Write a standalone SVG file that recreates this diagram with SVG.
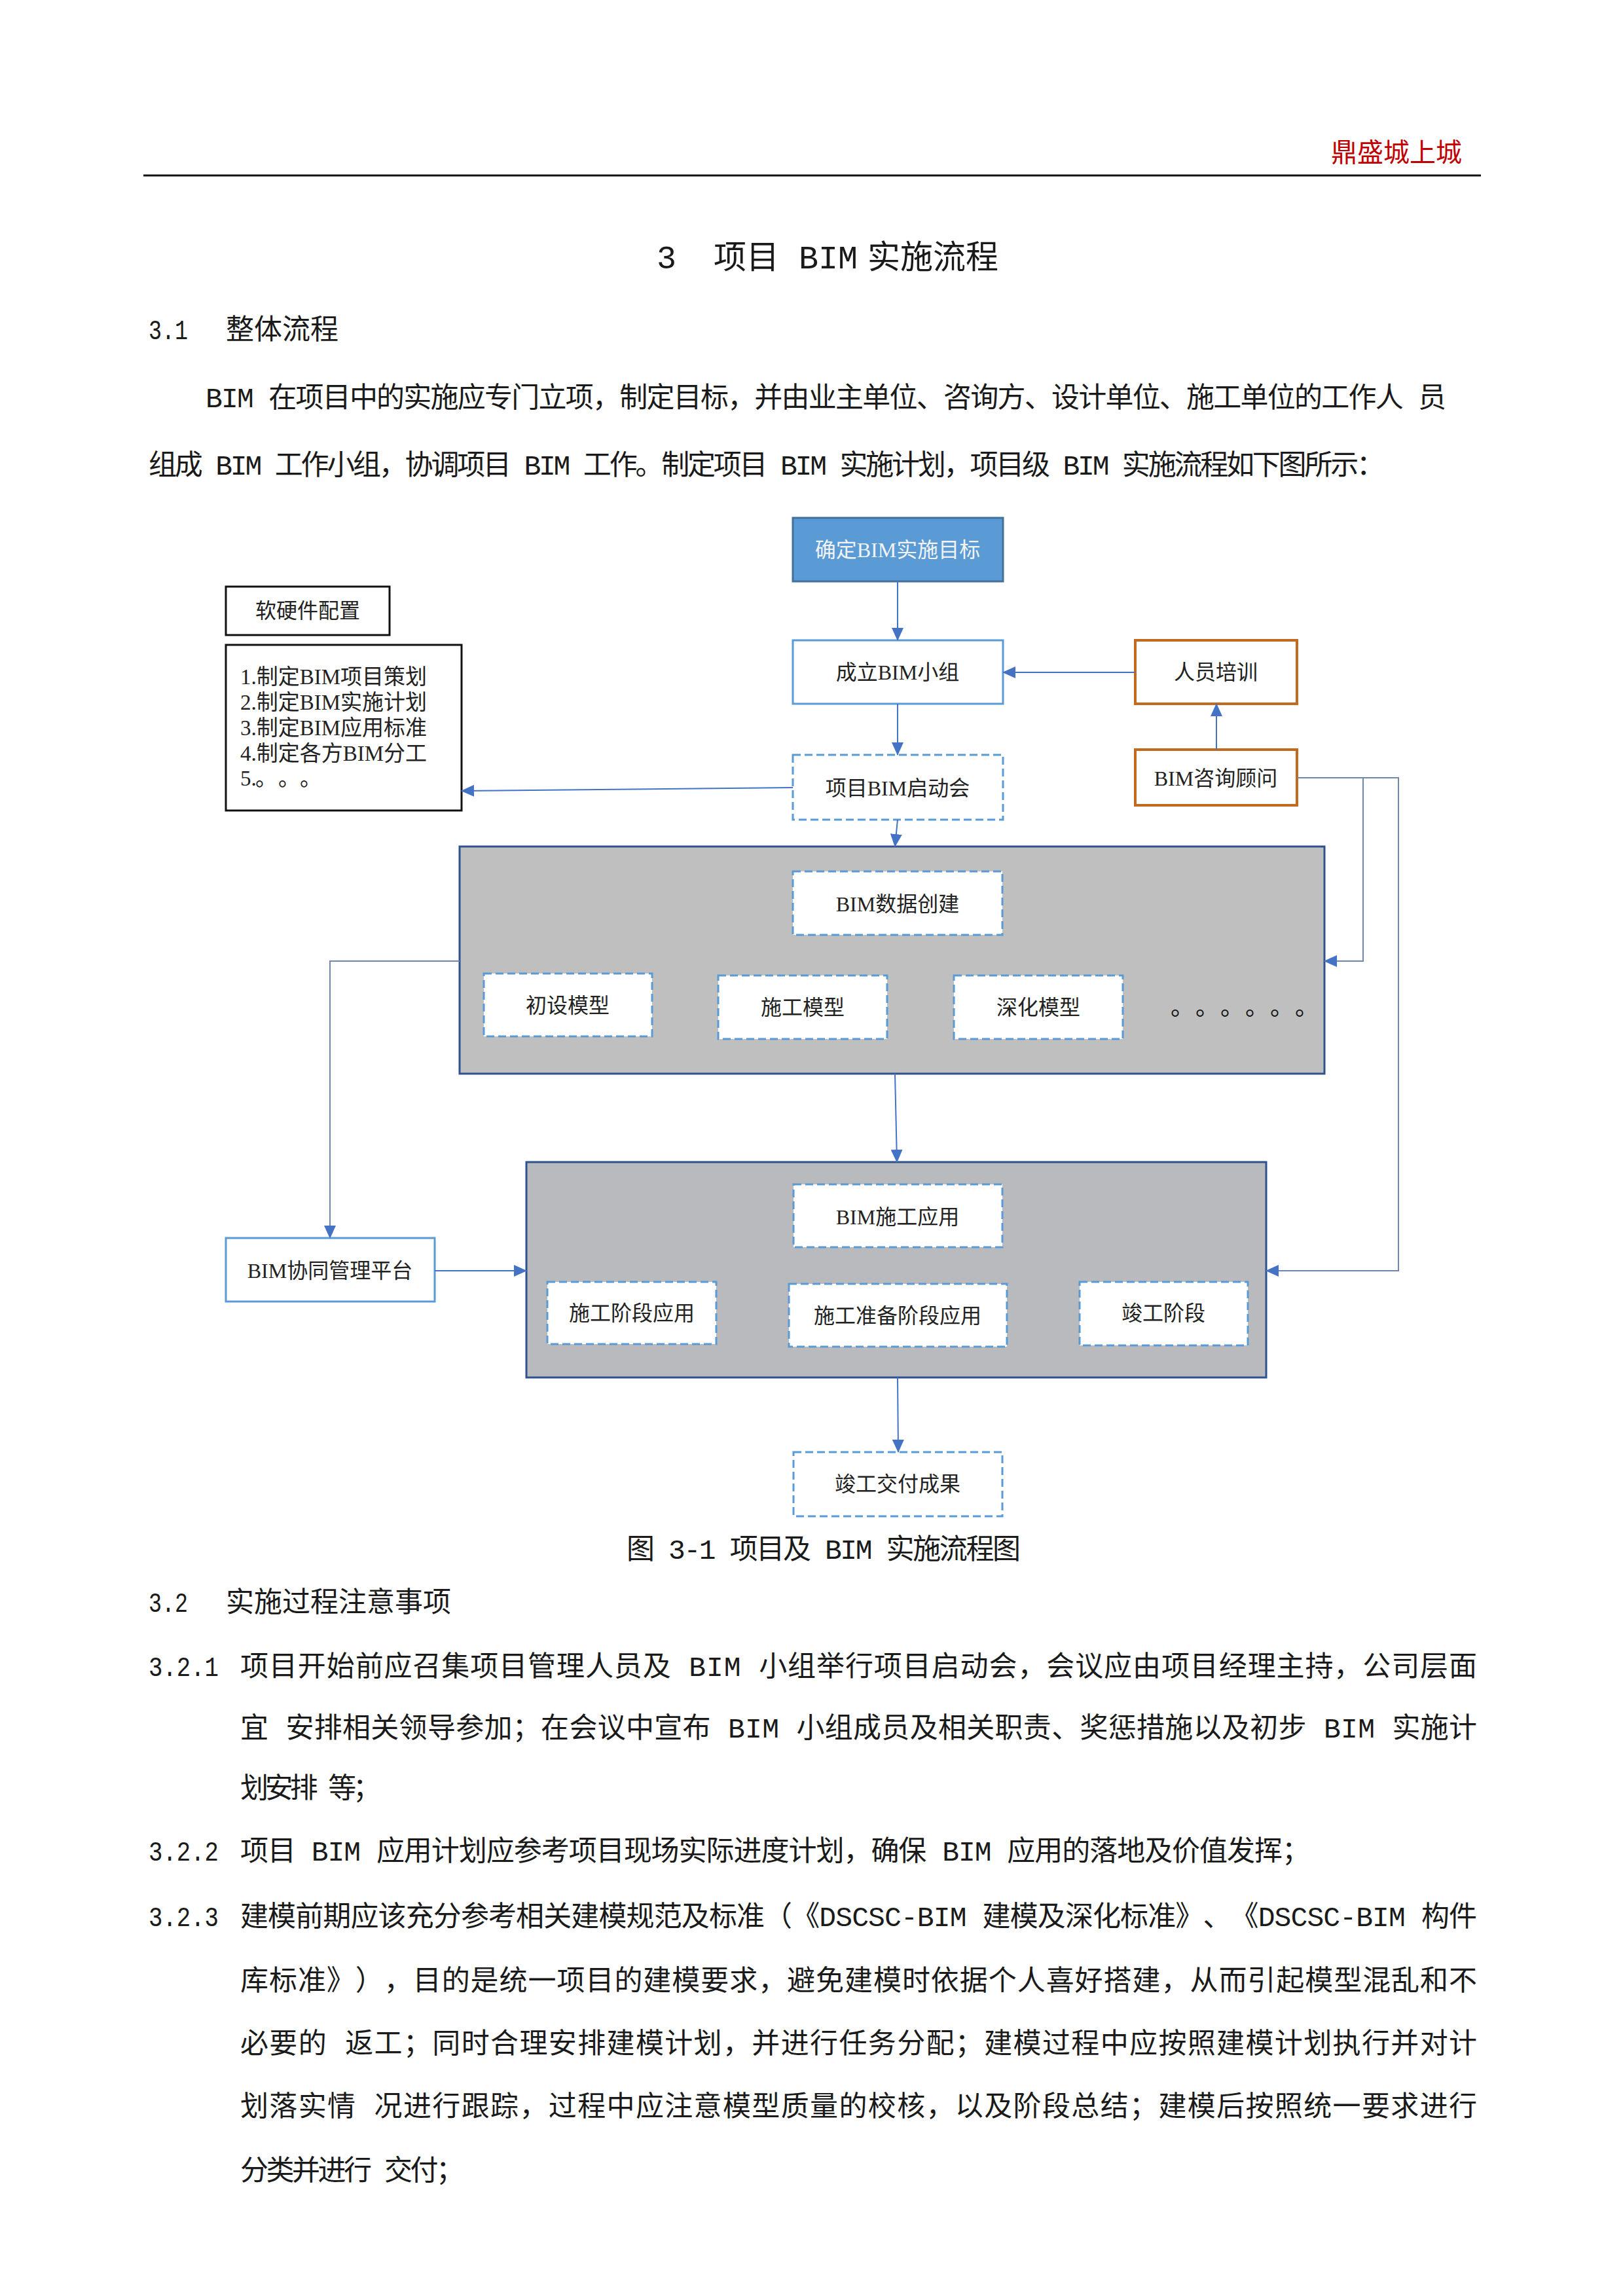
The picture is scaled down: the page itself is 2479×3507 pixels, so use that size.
<svg xmlns="http://www.w3.org/2000/svg" width="2479" height="3507" viewBox="0 0 2479 3507">
<style>
text{text-spacing-trim:space-all}
.body{font-family:"Liberation Mono","Noto Sans CJK SC",monospace;font-size:43px;fill:#1a1a1a}
.title{font-size:50px}
.node{font-family:"Liberation Serif","Noto Sans CJK SC",serif;font-size:32px;fill:#222;text-anchor:middle}
.solid{fill:#fff;stroke:#5B9BD5;stroke-width:3}
.dash{fill:#fff;stroke:#5B9BD5;stroke-width:3;stroke-dasharray:12 6}
.orange{fill:#fff;stroke:#C46A1F;stroke-width:4}
.black{fill:#fff;stroke:#111;stroke-width:3}
.big{stroke:#2F528F;stroke-width:3}
.conn{fill:none;stroke:#4472C4;stroke-width:2}
.conn2{fill:none;stroke:#6F86AD;stroke-width:2}
</style>
<defs>
<marker id="arr" markerUnits="userSpaceOnUse" markerWidth="20" markerHeight="18" refX="19" refY="9" orient="auto"><path d="M0,0 L20,9 L0,18 z" fill="#4472C4"/></marker>
</defs>
<rect width="2479" height="3507" fill="#fff"/>

<!-- page header -->
<text x="2233" y="247" font-family="'Liberation Serif','Noto Sans CJK SC',serif" font-size="40" fill="#C00000" text-anchor="end">鼎盛城上城</text>
<line x1="219" y1="268" x2="2262" y2="268" stroke="#111" stroke-width="3"/>

<!-- title -->
<text class="body title" y="410"><tspan x="1003">3</tspan><tspan x="1090">项目</tspan><tspan x="1220">BIM</tspan><tspan x="1325">实施流程</tspan></text>
<text class="body" x="227" y="518" textLength="60" lengthAdjust="spacingAndGlyphs">3.1</text>
<text class="body" x="345" y="518">整体流程</text>
<text class="body" x="314" y="622" textLength="1895" lengthAdjust="spacing">BIM 在项目中的实施应专门立项，制定目标，并由业主单位、咨询方、设计单位、施工单位的工作人 员</text>
<text class="body" x="227" y="725" textLength="1888" lengthAdjust="spacing">组成 BIM 工作小组，协调项目 BIM 工作。制定项目 BIM 实施计划，项目级 BIM 实施流程如下图所示：</text>

<!-- diagram nodes -->
<g id="n_goal"><rect x="1211" y="791" width="321" height="97" fill="#5B9BD5" stroke="#41719C" stroke-width="3"/><text class="node" x="1371" y="851" style="fill:#F2F2F2">确定BIM实施目标</text></g>
<g id="n_team"><rect class="solid" x="1211" y="978" width="321" height="97"/><text class="node" x="1371" y="1038">成立BIM小组</text></g>
<g id="n_kickoff"><rect class="dash" x="1211" y="1153" width="321" height="99"/><text class="node" x="1371" y="1215">项目BIM启动会</text></g>
<g id="n_training"><rect class="orange" x="1734" y="978" width="247" height="97"/><text class="node" x="1857" y="1038">人员培训</text></g>
<g id="n_consult"><rect class="orange" x="1734" y="1145" width="247" height="85"/><text class="node" x="1857" y="1200">BIM咨询顾问</text></g>
<g id="n_hwsw"><rect class="black" x="345" y="896" width="250" height="74"/><text class="node" x="470" y="944">软硬件配置</text></g>
<g id="n_list"><rect class="black" x="345" y="985" width="360" height="253"/>
<text class="node" style="text-anchor:start;font-size:33px"><tspan x="367" y="1045">1.制定BIM项目策划</tspan><tspan x="367" y="1084">2.制定BIM实施计划</tspan><tspan x="367" y="1123">3.制定BIM应用标准</tspan><tspan x="367" y="1162">4.制定各方BIM分工</tspan><tspan x="367" y="1200">5.</tspan><tspan x="390" y="1200">。</tspan><tspan x="425" y="1200">。</tspan><tspan x="458" y="1200">。</tspan></text></g>

<g id="n_creation_group"><rect class="big" x="702" y="1293" width="1321" height="347" fill="#BFBFBF"/></g>
<g id="n_data"><rect class="dash" x="1211" y="1331" width="320" height="97"/><text class="node" x="1371" y="1392">BIM数据创建</text></g>
<g id="n_prelim"><rect class="dash" x="739" y="1487" width="257" height="96"/><text class="node" x="867" y="1547">初设模型</text></g>
<g id="n_cmodel"><rect class="dash" x="1097" y="1490" width="258" height="97"/><text class="node" x="1226" y="1550">施工模型</text></g>
<g id="n_dmodel"><rect class="dash" x="1457" y="1490" width="258" height="97"/><text class="node" x="1586" y="1550">深化模型</text></g>
<g id="n_dots"><text y="1551" font-family="'Noto Sans CJK SC',sans-serif" font-size="36" fill="#111"><tspan x="1788">。</tspan><tspan x="1826">。</tspan><tspan x="1864">。</tspan><tspan x="1902">。</tspan><tspan x="1940">。</tspan><tspan x="1978">。</tspan></text></g>

<g id="n_platform"><rect class="solid" x="345" y="1891" width="319" height="97"/><text class="node" x="504" y="1952">BIM协同管理平台</text></g>
<g id="n_apply_group"><rect class="big" x="804" y="1775" width="1130" height="329" fill="#B8BABD"/></g>
<g id="n_app"><rect class="dash" x="1212" y="1809" width="319" height="96"/><text class="node" x="1371" y="1870">BIM施工应用</text></g>
<g id="n_stage"><rect class="dash" x="836" y="1958" width="258" height="95"/><text class="node" x="965" y="2017">施工阶段应用</text></g>
<g id="n_prep"><rect class="dash" x="1205" y="1961" width="333" height="96"/><text class="node" x="1371" y="2021">施工准备阶段应用</text></g>
<g id="n_completion"><rect class="dash" x="1649" y="1958" width="257" height="97"/><text class="node" x="1777" y="2017">竣工阶段</text></g>
<g id="n_deliver"><rect class="dash" x="1212" y="2218" width="319" height="98"/><text class="node" x="1371" y="2278">竣工交付成果</text></g>

<!-- connectors -->
<g id="connectors">
<path class="conn" d="M1371,888 L1371,978" marker-end="url(#arr)"/>
<path class="conn" d="M1371,1075 L1371,1153" marker-end="url(#arr)"/>
<path class="conn" d="M1734,1027 L1532,1027" marker-end="url(#arr)"/>
<path class="conn" d="M1858,1145 L1858,1075" marker-end="url(#arr)"/>
<path class="conn" d="M1211,1203 L705,1208" marker-end="url(#arr)"/>
<path class="conn" d="M1371,1252 L1367,1293" marker-end="url(#arr)"/>
<path class="conn2" d="M1981,1188 L2136,1188 L2136,1941 L1934,1941" marker-end="url(#arr)"/>
<path class="conn2" d="M2082,1188 L2082,1468 L2023,1468" marker-end="url(#arr)"/>
<path class="conn2" d="M702,1468 L504,1468 L504,1891" marker-end="url(#arr)"/>
<path class="conn" d="M664,1941 L804,1941" marker-end="url(#arr)"/>
<path class="conn" d="M1367,1640 L1370,1775" marker-end="url(#arr)"/>
<path class="conn" d="M1371,2104 L1372,2218" marker-end="url(#arr)"/>
</g>

<!-- caption and section 3.2 -->
<text class="body" x="957" y="2381" textLength="602" lengthAdjust="spacing">图 3-1 项目及 BIM 实施流程图</text>
<text class="body" x="227" y="2462" textLength="60" lengthAdjust="spacingAndGlyphs">3.2</text>
<text class="body" x="345" y="2462">实施过程注意事项</text>
<text class="body" x="227" y="2560" textLength="107" lengthAdjust="spacingAndGlyphs">3.2.1</text>
<text class="body" x="367" y="2560" textLength="1889" lengthAdjust="spacing">项目开始前应召集项目管理人员及 BIM 小组举行项目启动会，会议应由项目经理主持，公司层面</text>
<text class="body" x="367" y="2654" textLength="1889" lengthAdjust="spacing">宜 安排相关领导参加；在会议中宣布 BIM 小组成员及相关职责、奖惩措施以及初步 BIM 实施计</text>
<text class="body" x="367" y="2746" textLength="215" lengthAdjust="spacing">划安排 等；</text>
<text class="body" x="227" y="2842" textLength="107" lengthAdjust="spacingAndGlyphs">3.2.2</text>
<text class="body" x="367" y="2842" textLength="1634" lengthAdjust="spacing">项目 BIM 应用计划应参考项目现场实际进度计划，确保 BIM 应用的落地及价值发挥；</text>
<text class="body" x="227" y="2942" textLength="107" lengthAdjust="spacingAndGlyphs">3.2.3</text>
<text class="body" x="367" y="2942" textLength="1889" lengthAdjust="spacing">建模前期应该充分参考相关建模规范及标准（《DSCSC-BIM 建模及深化标准》、《DSCSC-BIM 构件</text>
<text class="body" x="367" y="3040" textLength="1889" lengthAdjust="spacing">库标准》），目的是统一项目的建模要求，避免建模时依据个人喜好搭建，从而引起模型混乱和不</text>
<text class="body" x="367" y="3136" textLength="1889" lengthAdjust="spacing">必要的 返工；同时合理安排建模计划，并进行任务分配；建模过程中应按照建模计划执行并对计</text>
<text class="body" x="367" y="3232" textLength="1889" lengthAdjust="spacing">划落实情 况进行跟踪，过程中应注意模型质量的校核，以及阶段总结；建模后按照统一要求进行</text>
<text class="body" x="367" y="3330" textLength="342" lengthAdjust="spacing">分类并进行 交付；</text>
</svg>
